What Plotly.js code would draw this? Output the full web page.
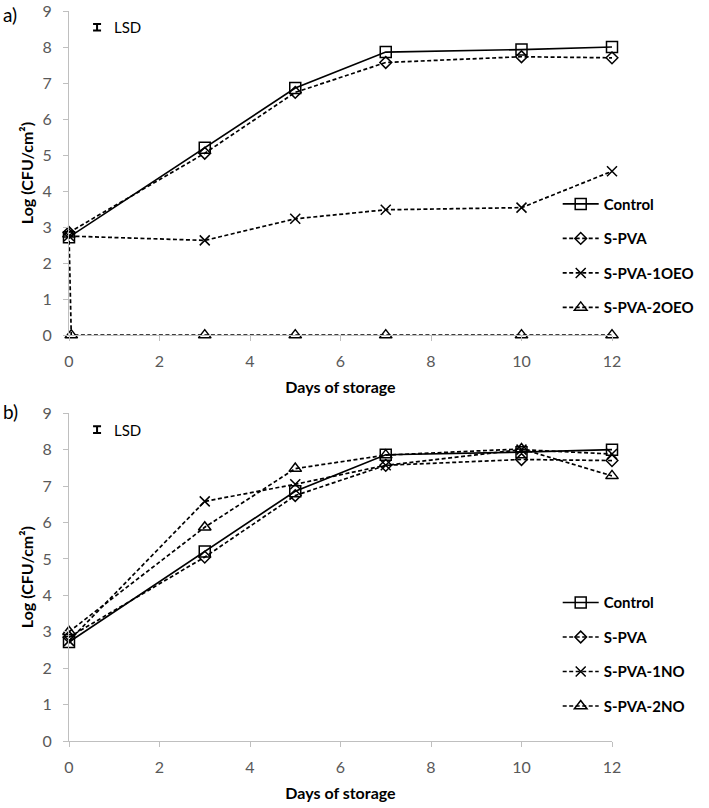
<!DOCTYPE html>
<html>
<head>
<meta charset="utf-8">
<script src="https://cdn.plot.ly/plotly-3.0.1.min.js"></script>
<style>
  body { margin: 0; background: #fff; }
  #chart { width: 709px; height: 808px; }
</style>
</head>
<body>
<div id="chart"></div>
<script>
// days of storage
var days = [0, 3, 5, 7, 10, 12];
var days_2oeo = [0, 0.05, 3, 5, 7, 10, 12];

// panel a) - oregano essential oil
var control = [2.72, 5.2, 6.86, 7.86, 7.93, 8.0];
var s_pva = [2.85, 5.05, 6.74, 7.57, 7.73, 7.7];
var s_pva_1oeo = [2.75, 2.63, 3.23, 3.48, 3.54, 4.55];
var s_pva_2oeo = [2.8, 0, 0, 0, 0, 0, 0];

// panel b) - nisin
var s_pva_1no = [2.75, 6.58, 7.05, 7.57, 8.0, 7.88];
var s_pva_2no = [3.0, 5.87, 7.48, 7.85, 8.02, 7.28];

var names_a = ['Control', 'S-PVA', 'S-PVA-1OEO', 'S-PVA-2OEO'];
var names_b = ['Control', 'S-PVA', 'S-PVA-1NO', 'S-PVA-2NO'];
var symbols = ['square-open', 'diamond-open', 'x-thin-open', 'triangle-up-open'];
var sizes = [11, 9, 10, 11];

function series(x, y, i, names, xa, ya, leg) {
    return {
        x: x,
        y: y,
        xaxis: xa,
        yaxis: ya,
        legend: leg,
        legendgroup: leg + i,
        cliponaxis: false,
        mode: 'lines+markers',
        name: names[i],
        line: { color: '#000', width: 1.7, dash: i == 0 ? 'solid' : '4px,2.5px' },
        marker: { symbol: symbols[i], size: sizes[i], color: '#000', line: { color: '#000', width: 1.5 } },
        type: 'scatter'
    };
}

// small LSD key bars
function lsd(xa, ya) {
    return {
        x: [0.62], y: [8.55], xaxis: xa, yaxis: ya,
        mode: 'markers', marker: { size: 1, color: 'rgba(0,0,0,0)' },
        error_y: { type: 'data', array: [0.09], color: '#000', thickness: 2, width: 4 },
        showlegend: false, hoverinfo: 'skip', type: 'scatter'
    };
}

var data = [
    series(days, control, 0, names_a, 'x', 'y', 'legend'),
    series(days, s_pva, 1, names_a, 'x', 'y', 'legend'),
    series(days, s_pva_1oeo, 2, names_a, 'x', 'y', 'legend'),
    series(days_2oeo, s_pva_2oeo, 3, names_a, 'x', 'y', 'legend'),
    series(days, control, 0, names_b, 'x2', 'y2', 'legend2'),
    series(days, s_pva, 1, names_b, 'x2', 'y2', 'legend2'),
    series(days, s_pva_1no, 2, names_b, 'x2', 'y2', 'legend2'),
    series(days, s_pva_2no, 3, names_b, 'x2', 'y2', 'legend2'),
    lsd('x', 'y'),
    lsd('x2', 'y2')
];

var tickFont = { family: 'Lato, sans-serif', size: 16, color: '#595959' };
var titleFont = { family: 'Lato, sans-serif', size: 16, color: '#000', weight: 'bold' };

function xAxis(anchor) {
    return {
        anchor: anchor, range: [0, 12], dtick: 2, showgrid: false, zeroline: false,
        showline: true, linecolor: '#bfbfbf', linewidth: 1.2,
        ticks: 'outside', ticklen: 5, tickcolor: '#bfbfbf', tickfont: tickFont,
        ticklabelstandoff: 7,
        title: { text: '<b>Days of storage</b>', font: titleFont, standoff: 12 }
    };
}
function yAxis(anchor, domain) {
    return {
        anchor: anchor, domain: domain, range: [0, 9], dtick: 1, showgrid: false, zeroline: false,
        showline: true, linecolor: '#bfbfbf', linewidth: 1.2,
        ticks: 'outside', ticklen: 5, tickcolor: '#bfbfbf', tickfont: tickFont,
        ticklabelstandoff: 8,
        title: { text: '<b>Log (CFU/cm²)</b>', font: titleFont, standoff: 4 }
    };
}
function legendBox(y) {
    return {
        x: 0.9, y: y, xanchor: 'left', yanchor: 'top', itemwidth: 36,
        bgcolor: 'rgba(0,0,0,0)', traceorder: 'grouped', tracegroupgap: 12,
        font: { family: 'Lato, sans-serif', size: 15, color: '#000', weight: 'bold' }
    };
}

var layout = {
    width: 709,
    height: 808,
    margin: { l: 69, r: 97, t: 11, b: 67, autoexpand: false },
    paper_bgcolor: '#fff',
    plot_bgcolor: '#fff',
    showlegend: true,
    xaxis: xAxis('y'),
    yaxis: yAxis('x', [0.556, 1]),
    xaxis2: xAxis('y2'),
    yaxis2: yAxis('x2', [0, 0.449]),
    legend: legendBox(0.758),
    legend2: legendBox(0.212),
    annotations: [
        { text: 'a)', xref: 'paper', yref: 'paper', x: -0.125, y: 0.995, xanchor: 'left', yanchor: 'middle', showarrow: false, font: { family: 'Lato, sans-serif', size: 19, color: '#000' } },
        { text: 'b)', xref: 'paper', yref: 'paper', x: -0.125, y: 0.452, xanchor: 'left', yanchor: 'middle', showarrow: false, font: { family: 'Lato, sans-serif', size: 19, color: '#000' } },
        { text: 'LSD', xref: 'x', yref: 'y', x: 0.95, y: 8.55, xanchor: 'left', showarrow: false, font: { family: 'Lato, sans-serif', size: 15, color: '#000' } },
        { text: 'LSD', xref: 'x2', yref: 'y2', x: 0.95, y: 8.55, xanchor: 'left', showarrow: false, font: { family: 'Lato, sans-serif', size: 15, color: '#000' } }
    ]
};

Plotly.newPlot('chart', data, layout, { displayModeBar: false });
</script>
</body>
</html>
